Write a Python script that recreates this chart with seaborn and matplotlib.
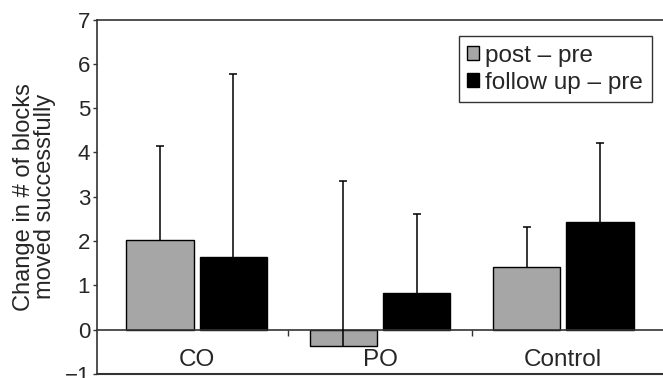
import numpy as np
import pandas as pd
import matplotlib
matplotlib.use("Agg")
import matplotlib.pyplot as plt
import seaborn as sns

groups = ["CO", "PO", "Control"]
conditions = ["post \u2013 pre", "follow up \u2013 pre"]
post_pre = [2.02, -0.36, 1.42]
follow_pre = [1.65, 0.82, 2.44]
# top of the (upper-only) error bars
post_pre_top = [4.15, 3.35, 2.32]
follow_pre_top = [5.77, 2.61, 4.22]

df = pd.DataFrame({
    "group": groups * 2,
    "cond": [conditions[0]] * 3 + [conditions[1]] * 3,
    "value": post_pre + follow_pre,
    "top": post_pre_top + follow_pre_top,
})

sns.set_style("white")
plt.rcParams["font.family"] = ["Liberation Sans", "DejaVu Sans"]
plt.rcParams["axes.unicode_minus"] = True

fig = plt.figure(figsize=(6.63, 3.78), dpi=100)
ax = fig.add_axes([0.1463, 0.0106, 0.8537, 0.9378])

sns.barplot(data=df, x="group", y="value", hue="cond", order=groups,
            hue_order=conditions, palette=["#a6a6a6", "#000000"],
            width=0.8, gap=0.08, errorbar=None, edgecolor="black",
            linewidth=1.0, ax=ax)

# error bars, upper side only
for cont, cond in zip(ax.containers, conditions):
    sub = df[df["cond"] == cond].set_index("group").loc[groups]
    xs = [p.get_x() + p.get_width() / 2 for p in cont.patches]
    vals = sub["value"].values
    up = sub["top"].values - vals
    eb = ax.errorbar(xs, vals, yerr=[np.zeros_like(up), up], fmt="none",
                     ecolor="black", elinewidth=1.1, capsize=3, capthick=1.1,
                     zorder=5)
    eb.lines[1][0].set_visible(False)  # drop the lower caps

ax.set_xlim(-0.545, 2.545)
ax.set_ylim(-1, 7)
ax.set_yticks(range(-1, 8))
ax.tick_params(axis="y", which="major", direction="out", length=3,
               width=1, color="#333333", labelsize=16, pad=2, left=True)

# x axis sits at zero; frame bottom at -1
ax.spines["bottom"].set_position(("data", 0))
ax.set_xticks([0.5, 1.5])
ax.set_xticklabels([])
ax.set_xticks([0, 1, 2], minor=True)
ax.set_xticklabels(groups, minor=True)
ax.tick_params(axis="x", which="major", direction="out", length=4, width=1,
               color="#333333", bottom=True)
ax.tick_params(axis="x", which="minor", length=0, labelsize=17.5, pad=14)
ax.axhline(-1, color="#333333", lw=1.5, clip_on=False)

for s in ["left", "top", "bottom"]:
    ax.spines[s].set_color("#333333")
    ax.spines[s].set_linewidth(1.2)
ax.spines["right"].set_visible(False)

ax.set_xlabel("")
ax.set_ylabel("Change in # of blocks\nmoved successfully", fontsize=17,
              labelpad=6, linespacing=0.95)

leg = ax.legend(loc="upper right", bbox_to_anchor=(0.98, 0.953), fontsize=17.5,
                frameon=True, fancybox=False, edgecolor="black",
                handlelength=0.5, handleheight=0.5, handletextpad=0.25,
                borderpad=0.35, labelspacing=0.2, borderaxespad=0)
leg.get_frame().set_linewidth(1.0)

fig.savefig("out.png", dpi=100)
